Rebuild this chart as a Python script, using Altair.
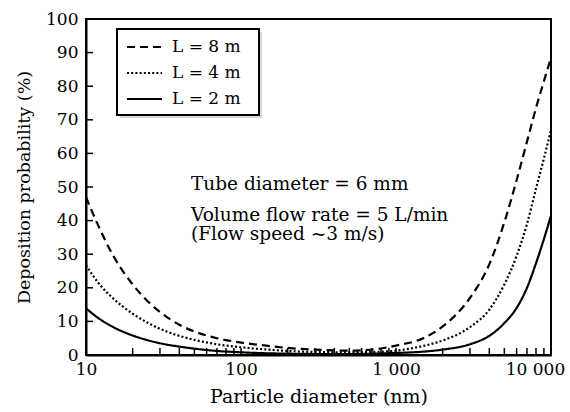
import altair as alt
import pandas as pd

# ---- data ----
diam = [10, 12, 15, 20, 25, 30, 40, 50, 70, 100, 150, 200, 300, 500, 700,
        1000, 1500, 2000, 3000, 4000, 5000, 6000, 7000, 8000, 9000, 10000]
dep_8m = [47, 38.5, 29.5, 21, 16, 12.8, 9, 7, 5, 3.7, 2.7, 2.1, 1.6, 1.3, 1.6,
          2.8, 5.0, 8.5, 17, 27, 39.5, 52, 63.5, 73.5, 81.5, 88.5]
dep_4m = [26.7, 21.5, 16.8, 12.3, 9.6, 7.8, 5.7, 4.5, 3.2, 2.3, 1.6, 1.2, 0.9, 0.8, 0.9,
          1.3, 2.7, 4.3, 8.3, 13.5, 21, 29.5, 39, 49.5, 58.5, 67]
dep_2m = [13.9, 11, 8.3, 5.8, 4.4, 3.5, 2.5, 1.9, 1.2, 0.8, 0.5, 0.4, 0.3, 0.3, 0.4,
          0.6, 1.0, 1.6, 3.2, 5.7, 9.5, 14, 20, 27.3, 34.5, 41.5]
series = ["L = 8 m", "L = 4 m", "L = 2 m"]
x_major = [10, 100, 1000, 10000]
x_minor = [m * d for d in (10, 100, 1000) for m in range(2, 10)]
y_ticks = [0, 10, 20, 30, 40, 50, 60, 70, 80, 90, 100]
notes = ["Tube diameter = 6 mm", "Volume flow rate = 5 L/min", "(Flow speed ~3 m/s)"]

FONT = "DejaVu Serif"
W, H = 465, 336
dashes = [[8, 5], [2, 2.2], [1, 0]]

rows = []
for name, vals in zip(series, [dep_8m, dep_4m, dep_2m]):
    for d, v in zip(diam, vals):
        rows.append({"d": d, "p": v, "series": name})
df = pd.DataFrame(rows)

xscale = alt.Scale(type="log", domain=[10, 10000], nice=False)
yscale = alt.Scale(domain=[0, 100], nice=False, zero=True)

xaxis = alt.Axis(values=x_major, title="Particle diameter (nm)", ticks=False,
                 labelExpr="replace(format(datum.value, ','), ',', ' ')",
                 labelPadding=6, titlePadding=10, grid=False, titleFontSize=19,
                 labelFlush=False, labelOverlap=False, labelBound=False,
                 labelOffset={"condition": {"test": "datum.value >= 10000", "value": -16},
                              "value": 0})
yaxis = alt.Axis(values=y_ticks, title="Deposition probability (%)", ticks=False,
                 labelPadding=8, titlePadding=12, grid=False, titleFontSize=17.5,
                 labelFlush=False, labelOverlap=False, labelBound=False)

lines = alt.Chart(df).mark_line(color="black", strokeWidth=2.2, interpolate="monotone", clip=True).encode(
    x=alt.X("d:Q", scale=xscale, axis=xaxis),
    y=alt.Y("p:Q", scale=yscale, axis=yaxis),
    strokeDash=alt.StrokeDash("series:N", scale=alt.Scale(domain=series, range=dashes), legend=None),
    detail="series:N",
)

# inside ticks on both axes
xt = pd.DataFrame({"t": [v for v in x_minor + x_major if 10 < v < 10000]})
xticks = alt.Chart(xt).mark_rule(color="black", strokeWidth=1.5).encode(
    x=alt.X("t:Q", scale=xscale, axis=xaxis), y=alt.value(H), y2=alt.value(H - 7))

yt = pd.DataFrame({"t": [v for v in y_ticks if 0 < v < 100]})
yticks = alt.Chart(yt).mark_rule(color="black", strokeWidth=1.5).encode(
    y=alt.Y("t:Q", scale=yscale, axis=yaxis), x=alt.value(0), x2=alt.value(7))

one = pd.DataFrame({"a": [0]})
# legend box (shadow + frame)
lx0, lx1, ly0, ly1 = 31, 173, 10, 96
shadow = alt.Chart(one).mark_rect(fill="#bdbdbd", opacity=0.6).encode(
    x=alt.value(lx0 + 3), x2=alt.value(lx1 + 3), y=alt.value(ly0 + 3), y2=alt.value(ly1 + 3))
box = alt.Chart(one).mark_rect(fill="white", stroke="black", strokeWidth=2).encode(
    x=alt.value(lx0), x2=alt.value(lx1), y=alt.value(ly0), y2=alt.value(ly1))

legend_layers = []
for i, name in enumerate(series):
    yy = 28 + 26 * i
    legend_layers.append(
        alt.Chart(one).mark_rule(color="black", strokeWidth=2.2, strokeDash=dashes[i]).encode(
            x=alt.value(41), x2=alt.value(76), y=alt.value(yy)))
    legend_layers.append(
        alt.Chart(pd.DataFrame({"s": [name]})).mark_text(
            font=FONT, fontSize=17, align="left", baseline="middle", color="black").encode(
            x=alt.value(86), y=alt.value(yy), text="s:N"))

note_layers = []
for txt, yy in zip(notes, [171, 202, 221]):
    note_layers.append(
        alt.Chart(pd.DataFrame({"s": [txt]})).mark_text(
            font=FONT, fontSize=18.5, align="left", baseline="alphabetic", color="black").encode(
            x=alt.value(105), y=alt.value(yy), text="s:N"))

chart = alt.layer(lines, xticks, yticks, shadow, box, *legend_layers, *note_layers).properties(
    width=W, height=H,
    autosize=alt.AutoSizeParams(type="none"),
    padding={"left": 86, "top": 19, "right": 19, "bottom": 57},
).configure_view(stroke="black", strokeWidth=2).configure_axis(
    domainColor="black", domainWidth=2, labelFont=FONT, titleFont=FONT,
    labelFontSize=17, labelColor="black", titleColor="black",
    titleFontWeight="normal", labelOverlap=False,
)

chart.save("out.html", embed_options={"renderer": "svg", "actions": False})
